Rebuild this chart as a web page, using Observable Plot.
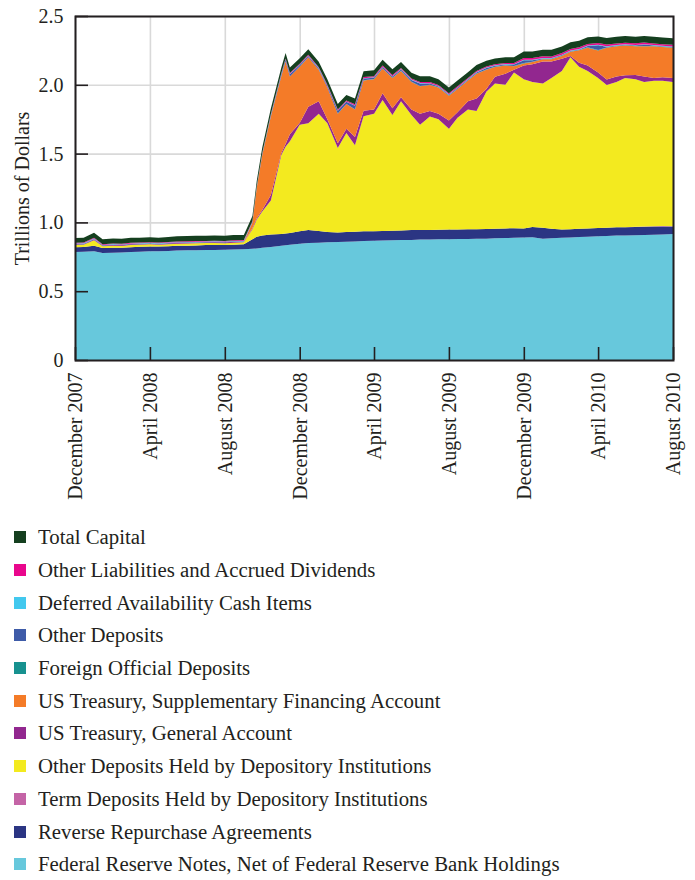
<!DOCTYPE html>
<html><head><meta charset="utf-8">
<script src="https://cdn.jsdelivr.net/npm/d3@7"></script>
<script src="https://cdn.jsdelivr.net/npm/@observablehq/plot@0.6"></script>
<style>
body{margin:0;background:#fff;font-family:"Liberation Serif",serif;color:#231f20;}
#legend{padding:6px 0 0 14px;}
.item{display:flex;align-items:center;height:32.7px;font-size:20.8px;white-space:nowrap;}
.sw{width:12px;height:12px;margin-right:12px;flex:none;}
</style></head><body>
<div id="chart"></div><div id="legend"></div>
<script>
const dates = ["2007-12-01","2007-12-15",
"2008-01-01","2008-01-15","2008-02-01","2008-02-15","2008-03-01","2008-03-15","2008-04-01","2008-04-15","2008-05-01","2008-05-15","2008-06-01","2008-06-15",
"2008-07-01","2008-07-15","2008-08-01","2008-08-15","2008-09-01","2008-09-15","2008-09-22","2008-10-01","2008-10-15","2008-11-01","2008-11-08","2008-11-15","2008-12-01","2008-12-15",
"2009-01-01","2009-01-15","2009-02-01","2009-02-15","2009-03-01","2009-03-15","2009-04-01","2009-04-15","2009-05-01","2009-05-15","2009-06-01","2009-06-15",
"2009-07-01","2009-07-15","2009-08-01","2009-08-15","2009-09-01","2009-09-15","2009-10-01","2009-10-15","2009-11-01","2009-11-15","2009-12-01","2009-12-15",
"2010-01-01","2010-01-15","2010-02-01","2010-02-15","2010-03-01","2010-03-15","2010-04-01","2010-04-15","2010-05-01","2010-05-15","2010-06-01","2010-06-15",
"2010-07-01","2010-07-15","2010-08-01"];

const xTickLabels = ["2007-12-01","2008-04-01","2008-08-01","2008-12-01","2009-04-01","2009-08-01","2009-12-01","2010-04-01","2010-08-01"];
const yTicks = [0, 0.5, 1.0, 1.5, 2.0, 2.5];

// Series values, trillions of dollars (bottom of stack to top)
const frn = [0.785,0.786,0.790,0.778,0.780,0.782,0.785,0.787,0.790,0.790,
0.792,0.795,0.797,0.798,0.800,0.800,0.802,0.803,0.805,0.808,0.811,
0.815,0.822,0.830,0.834,0.838,0.845,0.850,0.853,0.855,0.857,0.860,
0.862,0.864,0.866,0.868,0.870,0.872,0.873,0.875,0.876,0.877,
0.878,0.879,0.880,0.881,0.882,0.884,0.886,0.888,0.890,0.892,
0.882,0.885,0.888,0.890,0.893,0.896,0.900,0.902,0.904,0.905,
0.906,0.908,0.910,0.912,0.915];
const rrp = [0.035,0.035,0.040,0.036,0.035,0.034,0.035,0.036,0.035,0.034,
0.035,0.035,0.034,0.035,0.036,0.035,0.034,0.035,0.036,0.070,0.085,
0.090,0.090,0.085,0.085,0.085,0.090,0.095,0.085,0.075,0.070,0.070,
0.070,0.071,0.070,0.069,0.070,0.070,0.071,0.070,0.069,0.070,
0.070,0.070,0.071,0.070,0.070,0.069,0.070,0.070,0.065,0.075,
0.080,0.068,0.060,0.060,0.061,0.060,0.060,0.059,0.060,0.060,
0.061,0.060,0.060,0.059,0.055];
const termDep = [0,0,0,0,0,0,0,0,0,0,
0,0,0,0,0,0,0,0,0,0,0,
0,0,0,0,0,0,0,0,0,0,0,
0,0,0,0,0,0,0,0,0,0,
0,0,0,0,0,0,0,0,0,0,
0,0,0,0,0,0,0,0,0,0,
0.002,0.002,0.002,0.002,0.002];
const reserves = [0.015,0.016,0.040,0.012,0.016,0.013,0.015,0.014,0.016,0.013,
0.015,0.014,0.016,0.015,0.014,0.016,0.013,0.015,0.014,0.072,0.125,
0.175,0.248,0.575,0.631,0.667,0.775,0.775,0.852,0.790,0.613,0.720,
0.628,0.836,0.854,0.952,0.840,0.938,0.837,0.765,0.824,0.803,
0.732,0.811,0.870,0.859,0.998,1.056,1.044,1.132,1.085,1.053,
1.048,1.097,1.152,1.250,1.177,1.144,1.090,1.038,1.056,1.085,
1.072,1.050,1.058,1.056,1.048];
const tga = [0.005,0.005,0.006,0.004,0.005,0.005,0.006,0.005,0.004,0.005,
0.005,0.006,0.005,0.005,0.004,0.005,0.005,0.006,0.005,0.008,0.010,
0.010,0.040,0.012,0.020,0.050,0.012,0.120,0.090,0.030,0.035,0.030,
0.060,0.040,0.030,0.050,0.050,0.030,0.040,0.080,0.040,0.040,
0.060,0.040,0.060,0.090,0.020,0.050,0.080,0.020,0.100,0.130,
0.160,0.120,0.090,0.010,0.030,0.040,0.040,0.040,0.040,0.020,
0.030,0.040,0.020,0.025,0.030];
const sfa = [0,0,0,0,0,0,0,0,0,0,
0,0,0,0,0,0,0,0,0,0.040,0.220,
0.400,0.570,0.560,0.600,0.420,0.410,0.360,0.230,0.230,0.215,0.180,
0.200,0.220,0.220,0.180,0.220,0.190,0.200,0.200,0.190,0.190,
0.180,0.170,0.150,0.180,0.140,0.070,0.060,0.025,0.015,0.015,
0.015,0.015,0.020,0.030,0.090,0.130,0.160,0.230,0.220,0.215,
0.210,0.220,0.230,0.220,0.220];
const foreign = [0.0003,0.0003,0.0003,0.0003,0.0003,0.0003,0.0003,0.0003,0.0003,0.0003,
0.0003,0.0003,0.0003,0.0003,0.0003,0.0003,0.0003,0.0003,0.0003,0.0003,0.0005,
0.001,0.001,0.001,0.001,0.001,0.001,0.001,0.001,0.001,0.001,0.001,
0.002,0.002,0.002,0.002,0.002,0.002,0.002,0.002,0.002,0.002,
0.002,0.002,0.002,0.002,0.002,0.002,0.002,0.002,0.003,0.002,
0.002,0.002,0.002,0.002,0.002,0.002,0.003,0.002,0.002,0.002,
0.002,0.002,0.002,0.002,0.002];
const otherDep = [0.003,0.003,0.003,0.003,0.003,0.003,0.003,0.003,0.003,0.003,
0.003,0.003,0.003,0.003,0.003,0.003,0.003,0.003,0.003,0.003,0.004,
0.005,0.008,0.012,0.012,0.015,0.010,0.008,0.008,0.010,0.020,0.015,
0.025,0.012,0.010,0.008,0.008,0.010,0.012,0.018,0.008,0.006,
0.006,0.006,0.006,0.008,0.010,0.008,0.006,0.010,0.020,0.012,
0.005,0.004,0.004,0.004,0.004,0.010,0.035,0.006,0.004,0.004,
0.004,0.010,0.004,0.004,0.004];
const deferred = [0.003,0.003,0.004,0.003,0.003,0.002,0.003,0.003,0.003,0.003,
0.003,0.003,0.002,0.003,0.003,0.003,0.003,0.003,0.003,0.003,0.003,
0.003,0.003,0.003,0.003,0.003,0.004,0.003,0.003,0.003,0.003,0.003,
0.003,0.003,0.003,0.003,0.003,0.003,0.003,0.003,0.003,0.003,
0.003,0.003,0.003,0.003,0.003,0.003,0.003,0.003,0.004,0.003,
0.003,0.003,0.003,0.003,0.003,0.003,0.003,0.003,0.003,0.003,
0.003,0.003,0.003,0.003,0.003];
const otherLiab = [0.005,0.005,0.005,0.005,0.005,0.005,0.005,0.005,0.005,0.005,
0.005,0.005,0.005,0.005,0.005,0.005,0.005,0.005,0.005,0.005,0.005,
0.006,0.006,0.006,0.006,0.006,0.006,0.006,0.006,0.006,0.006,0.006,
0.008,0.008,0.008,0.008,0.008,0.008,0.008,0.008,0.008,0.008,
0.008,0.008,0.008,0.008,0.008,0.008,0.008,0.008,0.012,0.012,
0.012,0.012,0.012,0.012,0.012,0.012,0.012,0.012,0.012,0.012,
0.012,0.012,0.012,0.012,0.012];
const capital = [0.036,0.036,0.036,0.036,0.036,0.036,0.036,0.036,0.036,0.036,
0.036,0.038,0.038,0.038,0.038,0.038,0.038,0.038,0.038,0.038,0.038,
0.040,0.040,0.040,0.040,0.040,0.040,0.040,0.040,0.040,0.040,0.040,
0.042,0.042,0.042,0.042,0.042,0.042,0.042,0.042,0.042,0.042,
0.042,0.042,0.042,0.042,0.042,0.042,0.042,0.042,0.048,0.048,
0.048,0.048,0.048,0.048,0.048,0.048,0.048,0.048,0.048,0.048,
0.048,0.048,0.048,0.048,0.048];

const seriesNames = [
  "Federal Reserve Notes, Net of Federal Reserve Bank Holdings",
  "Reverse Repurchase Agreements",
  "Term Deposits Held by Depository Institutions",
  "Other Deposits Held by Depository Institutions",
  "US Treasury, General Account",
  "US Treasury, Supplementary Financing Account",
  "Foreign Official Deposits",
  "Other Deposits",
  "Deferred Availability Cash Items",
  "Other Liabilities and Accrued Dividends",
  "Total Capital"
];
const seriesColors = ["#67c8dc","#2b3583","#c464a6","#f3ea1f","#92278f","#f47b28","#17918f","#3e5ba8","#42c8ee","#e9078c","#153f1f"];
const seriesValues = [frn, rrp, termDep, reserves, tga, sfa, foreign, otherDep, deferred, otherLiab, capital];

const parse = d3.utcParse("%Y-%m-%d");
const dateObjs = dates.map(parse);
const xTicks = xTickLabels.map(parse);

const rows = [];
seriesNames.forEach((name, s) => {
  seriesValues[s].forEach((v, i) => rows.push({date: dateObjs[i], series: name, value: v}));
});

const W = 695, H = 515, mL = 75, mR = 22, mT = 16, mB = 155;
const plotW = W - mL - mR, plotH = H - mT - mB;
const ink = "#231f20";

const chart = Plot.plot({
  width: W, height: H,
  marginLeft: mL, marginRight: mR, marginTop: mT, marginBottom: mB,
  style: {fontFamily: "Liberation Serif, serif", fontSize: "20px", color: ink, background: "#fff"},
  x: {type: "utc", domain: [dateObjs[0], dateObjs[dateObjs.length - 1]]},
  y: {domain: [0, 2.5]},
  color: {domain: seriesNames, range: seriesColors},
  marks: [
    Plot.gridY(yTicks, {stroke: "#d9d9d9", strokeOpacity: 1, strokeWidth: 1.6}),
    Plot.gridX(xTicks, {stroke: "#d9d9d9", strokeOpacity: 1, strokeWidth: 1.6}),
    Plot.areaY(rows, {x: "date", y: "value", z: "series", fill: "series", order: seriesNames}),
    Plot.tickY(yTicks, {y: d => d, insetRight: plotW - 13, stroke: ink, strokeWidth: 1.6}),
    Plot.tickX(xTicks, {x: d => d, insetTop: plotH - 13, stroke: ink, strokeWidth: 1.6}),
    Plot.frame({stroke: ink, strokeWidth: 2}),
    Plot.axisY(yTicks, {tickSize: 0, tickPadding: 12, fontSize: 20, label: null,
      tickFormat: d => d === 0 ? "0" : d.toFixed(1)}),
    Plot.axisX(xTicks, {tickSize: 0, tickPadding: 12, tickRotate: -90, fontSize: 20, label: null,
      tickFormat: d3.utcFormat("%B %Y")}),
    Plot.text(["Trillions of Dollars"], {frameAnchor: "left", textAnchor: "middle", rotate: -90, dx: -53, fontSize: 20, fill: ink})
  ]
});
document.getElementById("chart").appendChild(chart);

const legend = document.getElementById("legend");
for (let s = seriesNames.length - 1; s >= 0; s--) {
  const item = document.createElement("div");
  item.className = "item";
  const sw = document.createElement("span");
  sw.className = "sw";
  sw.style.background = seriesColors[s];
  const label = document.createElement("span");
  label.textContent = seriesNames[s];
  item.appendChild(sw);
  item.appendChild(label);
  legend.appendChild(item);
}
</script>
</body></html>
